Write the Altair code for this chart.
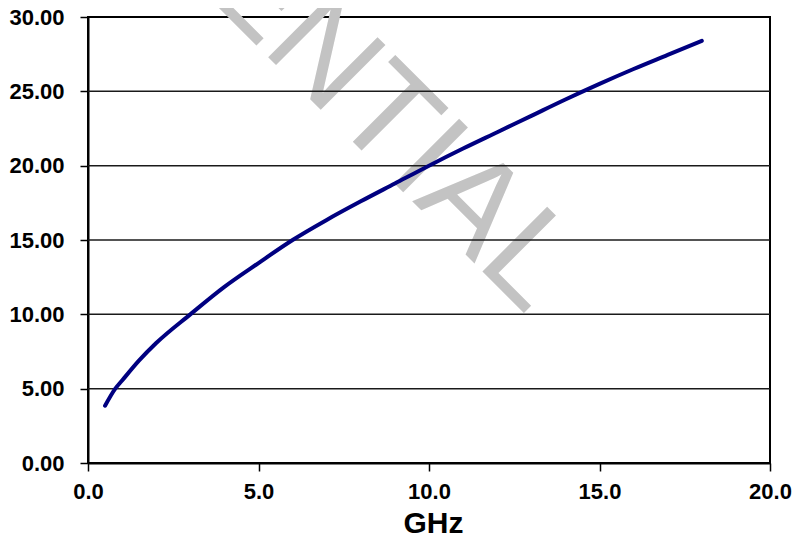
import altair as alt
import pandas as pd

# Data
ghz = [0.5, 0.8, 1.0, 1.5, 2.0, 3.0, 4.0, 5.0, 6.0, 7.0, 8.0, 9.0, 10.0,
       11.0, 12.0, 13.0, 14.0, 15.0, 16.0, 17.0, 18.0]
loss = [3.85, 5.0, 5.55, 6.9, 8.07, 10.0, 11.85, 13.45, 15.0, 16.35, 17.6, 18.8, 20.0,
        21.15, 22.25, 23.35, 24.45, 25.5, 26.5, 27.45, 28.4]
x_ticks = [0, 5, 10, 15, 20]
y_ticks = [0, 5, 10, 15, 20, 25, 30]
grid_vals = [5, 10, 15, 20, 25]
watermark = "CONFIDENTIAL"

FONT = "Liberation Sans"

df = pd.DataFrame({"GHz": ghz, "val": loss})
grid_df = pd.DataFrame({"g": grid_vals})
wm_df = pd.DataFrame({"t": [watermark]})

xscale = alt.Scale(domain=[0, 20], nice=False, zero=False)
yscale = alt.Scale(domain=[0, 30], nice=False)
yaxis = alt.Axis(values=y_ticks, format=".2f", title=None, grid=False,
                 labelPadding=16, labelFlush=False)

wm = alt.Chart(wm_df).mark_text(
    align="right", baseline="alphabetic", angle=45, fontSize=133,
    font=FONT, color="#c3c3c3", clip=False
).encode(
    text="t:N",
    x=alt.value(439),
    y=alt.value(299),
)

grid = alt.Chart(grid_df).mark_rule(color="#1a1a1a", strokeWidth=1.5).encode(
    y=alt.Y("g:Q", scale=yscale, axis=yaxis)
)

line = alt.Chart(df).mark_line(
    color="#000080", strokeWidth=4, interpolate="monotone", strokeCap="round"
).encode(
    x=alt.X("GHz:Q", scale=xscale,
            axis=alt.Axis(values=x_ticks, format=".1f", title="GHz",
                          grid=False, labelPadding=10, labelFlush=False,
                          titleBaseline="alphabetic", titleY=69.5, titleX=345,
                          titleAlign="center")),
    y=alt.Y("val:Q", scale=yscale, axis=yaxis),
)

chart = alt.layer(wm, grid, line).properties(
    width=682, height=446,
    autosize=alt.AutoSizeParams(type="none"),
    padding={"left": 80, "top": 9, "right": 25, "bottom": 71},
).configure(
    background="white"
).configure_view(
    stroke="black", strokeWidth=2
).configure_axis(
    labelFont=FONT, labelFontSize=22, labelFontWeight="bold", labelColor="black",
    titleFont=FONT, titleFontSize=30, titleFontWeight="bold", titleColor="black",
    domainColor="black", domainWidth=2, tickColor="black", tickWidth=1.5,
    tickSize=8,
)

chart.save("out.html", embed_options={"renderer": "svg", "actions": False})
